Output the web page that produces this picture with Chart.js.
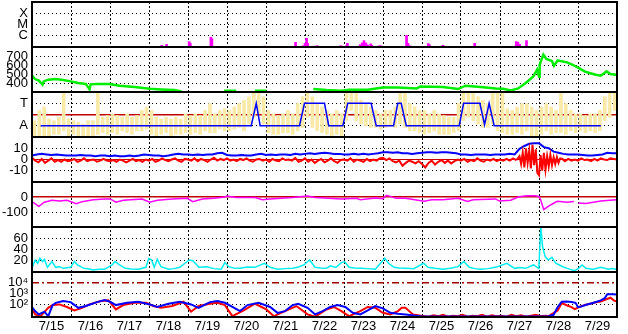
<!DOCTYPE html>
<html>
<head>
<meta charset="utf-8">
<script src="https://cdn.jsdelivr.net/npm/chart.js@4.4.1/dist/chart.umd.min.js"></script>
<style>
  html, body { margin: 0; padding: 0; background: #fff; }
  canvas { display: block; }
</style>
</head>
<body>
<canvas id="chart" width="628" height="334"></canvas>
<script>
// time is in hours from 7/15 00:00
const dayLabels = ["7/15", "7/16", "7/17", "7/18", "7/19", "7/20", "7/21", "7/22", "7/23", "7/24", "7/25", "7/26", "7/27", "7/28", "7/29"];

// X-ray flares (W/m2)
const flareBase = 1e-7;
const flareHours = [79.8, 82.8, 96.7, 97.4, 110.1, 110.7, 143, 162.2, 167, 168, 169, 169.6, 173.8, 175.6, 178.4, 190, 193.4, 194.1, 197.4, 200.9, 202, 203.2, 204.3, 205.5, 206.6, 208.5, 209.2, 212.9, 214.3, 215.2, 219.4, 222.8, 230.5, 231.4, 232.3, 243.9, 244.6, 252.9, 272.4, 298, 299, 300.1, 304.3, 359];
const flareFlux = [1.4e-7, 1.7e-7, 3.0e-7, 2.1e-7, 7.4e-7, 5.4e-7, 1.2e-7, 2.6e-7, 1.3e-7, 2.1e-7,
  6.0e-7, 2.1e-7, 1.2e-7, 1.3e-7, 1.15e-7, 1.3e-7, 1.3e-7, 2.1e-7, 1.15e-7, 1.15e-7,
  1.6e-7, 2.3e-7, 3.7e-7, 2.3e-7, 1.5e-7, 1.9e-7, 1.4e-7, 1.2e-7, 1.3e-7, 1.2e-7,
  1.15e-7, 1.15e-7, 1.07e-6, 2.1e-7, 1.3e-7, 2.0e-7, 1.6e-7, 1.4e-7, 2.1e-7, 3.0e-7,
  2.6e-7, 1.7e-7, 3.7e-7, 1.15e-7];
const xrayTicks = [1e-4, 1e-5, 1e-6];
const xrayLabels = ["X", "M", "C"];

// solar wind speed (km/s), null = off scale
const speedHours = [0, 1.9, 4.2, 6.5, 7.2, 10, 14.6, 19.2, 23.8, 28.5, 33.1, 35.4, 36.1, 40, 47.7, 53.9, 63.2, 72.4, 79.4, 87.5, 92.1, 93, 118.2, 125.7, 126.5, 137.2, 144.2, 145, 173.1, 181.2, 190.4, 195.1, 206.6, 215.9, 225.2, 236.7, 239, 252.9, 262.2, 266.8, 276.1, 285.3, 290, 294.6, 299.2, 303.8, 308.5, 310.8, 312, 312.4, 313.1, 314.7, 316.5, 320, 321.2, 323.5, 329.3, 333, 336, 340, 343, 347, 350, 353.6, 356, 359.4];
const speedVals = [481, 444, 426, 381, 418, 437, 444, 433, 418, 400, 390, 330, 385, 389, 389, 370, 356, 337, 329, 322, 307, null, 314, 314, null, 314, 314, null, 333, 322, 314, 326, 326, 351, 351, 340, 362, 356, 333, 370, 356, 340, 337, 318, 340, 400, 473, 548, 470, 600, 640, 715, 667, 645, 592, 651, 629, 600, 570, 529, 511, 492, 481, 529, 500, 492];
const speedTicks = [400, 500, 600, 700];

// IMF sector: T = +1, A = -1; yellow = angle spread per 3 h bin
const polHours = [5.3, 134.9, 138, 140.4, 164.6, 167.7, 180, 182.6, 191.3, 194.3, 208.7, 211.8, 222.5, 225.1, 227.2, 230.3, 262.9, 265.6, 275.6, 278.5, 281.3, 284.4, 350.1];
const polVals = [-1, -1, 1, -1, -1, 1, 1, -1, -1, 1, 1, -1, -1, 1, 1, -1, -1, 1, 1, -0.9, 1, -1, -1];
const phiHi = [-0.55, 0.36, 0.67, -0.4, -0.55, -0.24, 1.88, -0.4,
  -0.55, -0.7, -0.85, -0.55, -0.55, 1.88, -0.24, -0.09,
  0.06, -0.09, -0.24, 0.06, -0.24, -0.09, 0.36, 0.67,
  0.36, -0.24, -0.4, -0.24, -0.4, -0.24, -0.4, 0.06,
  -0.09, 0.06, -0.09, 0.36, 0.97, 0.06, 0.36, 0.51,
  0.36, 0.67, 0.97, 1.27, 1.58, 2, 2, 1.58,
  0.36, 0.06, -0.09, 0.06, 0.36, 0.06, 0.97, 1.58,
  2, 1.58, 0.97, 0.67, 0.36, 0.06, 0.36, 0.06,
  2, 2, 1.88, 1.27, 0.97, 0.67, 0.36, 0.06,
  0.36, 0.36, 0.67, 1.88, 2, 0.97, 0.67, 0.36,
  0.36, 0.06, 0.36, 0.06, -0.09, -0.24, -0.24, 0.97,
  2, 2, 1.88, 1.58, 1.27, 0.97, 2, 1.88,
  1.88, 0.51, 0.36, 0.67, 0.97, 0.97, 0.67, 0.36,
  0.67, 0.97, 0.67, 0.36, 1.88, 0.97, 0.36, 0.06,
  0.06, -0.09, 0.06, 0.06, 0.36, 1.58, 2, 2];
const phiLo = [-2, -2, -1.91, -2, -1.76, -1.76, -1.45, -1.91,
  -1.76, -2, -2, -1.91, -2, -1.76, -1.61, -1.76,
  -1.61, -1.76, -1.45, -1.61, -1.76, -1.45, -1.45, -1.3,
  -1.76, -1.91, -1.76, -1.61, -1.91, -1.76, -1.76, -1.61,
  -1.76, -1.61, -1.76, -1.45, -1.61, -1.61, -1.3, -1.45,
  -1.45, -1.3, -1.15, -1.45, -0.85, -0.24, 0.06, -0.85,
  -1.61, -1.76, -1.76, -1.61, -1.61, -1.76, -1.45, -1.15,
  -0.24, -1.15, -1.45, -1.61, -1.76, -1.91, -1.76, -2,
  -0.55, 0.36, -0.55, -0.85, -1.0, -1.15, -1.15, -1.3,
  -1.15, -1.0, -1.15, -0.85, -1.15, -1.45, -1.45, -1.61,
  -1.76, -1.61, -1.45, -1.76, -1.76, -1.76, -1.61, -1.45,
  -0.55, -0.24, -0.55, -0.85, -1.15, -1.15, -0.85, -1.45,
  -1.61, -1.76, -1.76, -1.61, -1.76, -1.45, -1.91, -2,
  -1.76, -1.45, -1.76, -1.61, -1.61, -1.76, -1.45, -1.61,
  -1.45, -1.61, -1.45, -1.61, -1.45, -0.55, -0.24, 0.36];
const polTicks = [1, 0, -1];
const polLabels = ["T", "", "A"];

// IMF Bz every 2 h (storm hours kept hourly below), Bt every 3 h (nT)
const bzVals = [1.5, -1, -2.5, 0.5, -3, -1, 1, -2, -0.5, -2, 0, -1.5,
  -1, 0.5, -2, -1, 1, -1.5, -0.5, 0, -2, -1, 0.5, -1,
  -1.5, -0.5, -2, 0, -1, -2.5, -1, 0.5, -1.5, -0.5, -2, 0,
  -1, 0.5, -2, -1, 1, -0.5, -1.5, 0, 1, -1, -2, 0.5,
  0, -1, 1, -1.5, 0.5, -0.5, -2, 0, 1.5, -1, 0.5, -0.5,
  1, -1, 0, -1.5, 0.5, -0.5, 1, -1, -2, 0, 0.5, -1,
  0, -2, 0.5, -1, -1.5, 1, -0.5, 0, -1, 1.5, -2, -1,
  1, -2, 0, -3, -1, 0.5, -2.5, -1, 1, -1.5, -3, -0.5,
  0, -1, 1, -2, 0, -1, -2, 0.5, -1.5, 0, -1, 1,
  1.5, -0.5, 1, -1.5, -2.5, -1, -5.5, -3, -1, -2, -3.5, -1.5,
  -4, -7, -3, -1, -4.5, -2, -0.5, -3, -1, -3.5, -1.5, 0,
  -1, 0.5, -2, -0.5, -1.5, 1, -1, -2, 0, -1, 0.5, -1.5,
  0, -1, 0.5, -1, 1, -0.5, null, null, null, null, null, null,
  null, null, null, null, null, null, null, 1, -1.5, 0.5, -1, 0,
  -1, 1, -0.5, 0, -1.5, 0.5, -1, 1, 0, -0.5, 1, 0.5,
  0];
const bzStormHours = [298, 299, 300, 301, 302, 303, 304, 305, 306, 307, 308, 309, 310, 311, 312, 313, 314, 315, 316, 317, 318, 319, 320, 321, 322, 323, 324, 325, 326];
const bzStormVals = [-0.5, 1, 3, -4, 6, -7, 10, -3, 8, -8, 13, -5, 9, -12, -14, 4, -10, 6, -9, 3, -6, 4, -5, 2, -4, 2, -3, 1, 1];
const btVals = [3.5, 4.5, 5, 4.5, 4, 4.5, 4, 3.5,
  3.5, 3.5, 4, 3.5, 3.5, 3, 3.5, 3.5,
  3, 3.5, 3, 3, 3.5, 3, 3.5, 4.5,
  4, 3.5, 3.5, 3, 3.5, 4.5, 5, 4.5,
  4.5, 4, 4.5, 4, 4.5, 4.5, 5.5, 6,
  4, 3.5, 3.5, 4, 3.5, 3.5, 4.5, 5,
  4, 4.5, 4, 4.5, 4.5, 4, 5, 4.5,
  5, 5.5, 5, 5.5, 6, 5.5, 5, 5,
  4.5, 4.5, 5, 4.5, 5, 4.5, 5, 5.5,
  6.5, 6.5, 6, 6.5, 5.5, 5.5, 5, 5.5,
  6, 6.5, 6.5, 6, 6.5, 6.5, 6, 5.5,
  4.5, 4.5, 4, 4.5, 4.5, 4.5, 4, 4.5,
  4.5, 4.5, 5, 4.5, 9.5, 12, 14, 14.5,
  14.5, 11, 10, 7, 6, 5, 4.5, 4.5,
  4.5, 4, 3.5, 3.5, 4, 4.5, 6, 5.5,
  5.5];
const bTicks = [10, 0, -10];

// Dst (nT)
const dstHours = [0, 4.2, 7.6, 12.3, 16.9, 21.5, 27.3, 30.8, 37.7, 44.7, 48.1, 51.6, 56.2, 67.8, 72.4, 77.1, 86.3, 95.6, 99, 104.8, 111.8, 118.7, 119.9, 125.7, 137.2, 141.8, 146.5, 160.4, 169.6, 174.2, 190.4, 199.7, 202, 211.3, 215.9, 218.2, 220.5, 224, 229.8, 241.4, 246, 252.9, 262.2, 268, 271.4, 285.3, 287.6, 294.6, 299.2, 303, 306.1, 309.6, 312, 313.1, 314.9, 317.7, 321.2, 323.5, 329.3, 333.5, 334.5, 336.2, 340.8, 350.1, 359.4];
const dstVals = [-31, -62, -35, -22, -27, -22, -44, -31, -18, -13, -13, -35, -22, -13, -35, -22, -13, -9, -31, -13, -9, 0, 7, -4, -4, -18, -13, -4, 7, -4, -13, -9, -18, -7, -11, 11, 4, -9, -9, -29, -18, -18, -9, -29, -18, -13, -27, -22, 0, 7, 9, 8, 4, -22, -84, -62, -40, -29, -35, -30, null, -40, -44, -27, -18];
const dstTicks = [0, -100];

// proton density (p/cc)
const densHours = [0, 1.9, 3.5, 4.9, 6.5, 7.6, 9.5, 12.3, 14.6, 17, 19.2, 21.5, 23.8, 26.1, 28, 31.9, 35, 37.7, 41, 44.7, 49.3, 51.1, 53.9, 57.4, 61, 65.5, 70.1, 71.9, 73.6, 75.2, 77.1, 79.4, 84, 87.5, 90.9, 96.7, 99, 102.7, 107.4, 112, 116.4, 118.7, 121, 124, 128, 132.5, 137.2, 143, 146.5, 151.1, 155.5, 160.4, 164, 167.3, 170.8, 174.2, 177.5, 181.2, 183.5, 187, 190.4, 192.3, 195.1, 198.5, 202, 206.5, 211.3, 217.1, 219.4, 222.8, 226, 229.8, 235, 240.9, 243.7, 248, 252.9, 257.5, 262.2, 265.7, 269.1, 272.5, 276.1, 280.5, 285.3, 292.2, 296.9, 300, 303.8, 308.5, 311.9, 313.1, 314.2, 315.8, 317.7, 320, 322.3, 324.6, 327, 329.3, 333.9, 336.2, 338.5, 340.8, 345.4, 350.1, 354.7, 357, 359.4];
const densVals = [6.5, 21.4, 15.5, 24.4, 18.5, 22.6, 8.3, 18.5, 8.3, 9.5, 6.5, 7.5, 8.3, 18.5, 12.5, 6.5, 5.5, 3.6, 5, 4.8, 12.5, 18.5, 12.5, 6.5, 5.5, 4.8, 8.3, 24.4, 21.4, 8.3, 22.6, 9.5, 4.8, 6, 8.3, 21.4, 20.2, 8.3, 9.5, 6, 4.8, 16.7, 9.5, 7, 6.5, 9, 8.3, 15.5, 8.3, 4.8, 6, 6.5, 9, 12.5, 21.4, 8.3, 7, 6.5, 11, 8, 16.7, 18.5, 8.3, 7, 6.5, 6, 4.8, 24.4, 15.5, 8.3, 7, 6.5, 6, 15.5, 8.3, 6.5, 4.8, 6.5, 9.5, 18.5, 8.3, 6, 4.8, 6, 8.3, 15.5, 6.5, 8, 6.5, 12.5, 6.5, 79.8, 45.2, 27.4, 21.4, 26.2, 15.5, 12.5, 9, 6.5, 2.4, 6, 12.5, 6.5, 4.8, 8.3, 4.8, 6, 4.8];
const densTicks = [20, 40, 60];

// electron flux, two satellites
const eBlueHours = [0, 1.9, 4.2, 7.6, 10, 12.7, 14.6, 19.2, 23.8, 28.5, 33.1, 40, 44.7, 48.1, 51.6, 58.5, 65.5, 72.4, 77.1, 84, 90.9, 97.9, 102.5, 109.5, 114.1, 118.7, 123.3, 128, 132.6, 139.5, 146.5, 151.1, 155.7, 160.4, 163.8, 169.6, 174.2, 178.9, 183.5, 188.1, 192.8, 197.4, 202, 206.6, 211.3, 215.9, 220.5, 225.2, 229.8, 239, 252.9, 276.1, 299.2, 317.7, 321, 323.5, 326, 329, 332, 334.5, 336, 338, 341, 344, 347, 350, 352.5, 354, 357, 360];
const eBlueVals = [62, 26, 13, 23, 9, 93, 150, 220, 174, 52, 76, 174, 270, 186, 93, 150, 186, 107, 62, 123, 186, 107, 52, 174, 220, 150, 62, 26, 93, 150, 62, 18, 26, 93, 123, 52, 13, 26, 62, 93, 62, 18, 13, 30, 76, 46, 18, 15, 13, 9, 8.5, 8.5, 8.5, 9, 12, 60, 190, 200, 180, 150, 60, 70, 100, 130, 180, 250, 400, 900, 900, 850];
const eRedHours = [0, 1.9, 5.3, 10, 12.7, 16.9, 21.5, 26.1, 30.8, 35.4, 42.4, 47, 51.6, 56.2, 63.2, 70.1, 74.7, 79.4, 86.3, 93.3, 97.9, 102.5, 109.5, 114.1, 118.7, 123.3, 130.3, 137.2, 144.2, 148.8, 155.7, 162.7, 169.6, 174.2, 181.2, 185.8, 190.4, 195.1, 202, 206.6, 211.3, 215.9, 220.5, 225.2, 227.5, 229.8, 234.4, 241.4, 244, 247, 250, 253, 256, 259, 262, 265, 268, 271, 274, 277, 280, 283, 286, 289, 292, 295, 298, 301, 304, 307, 310, 313, 316, 318, 323.5, 326, 329, 332, 334, 336, 338, 341, 344, 347, 350, 353, 356, 358, 360];
const eRedVals = [46, 13, 9, 52, 93, 107, 62, 30, 52, 107, 220, 250, 37, 93, 150, 150, 76, 52, 76, 186, 23, 76, 123, 150, 93, 9, 30, 123, 37, 9, 26, 76, 13, 8, 37, 62, 26, 9, 26, 62, 52, 18, 13, 26, 52, 52, 13, 9, 8, 11, 9, 12, 8, 10, 9, 12, 8, 10, 9, 12, 8, 11, 9, 10, 8, 12, 9, 11, 8, 10, 12, 9, 10, 9, 30, 140, 90, 60, 40, 55, 75, 100, 130, 170, 200, 300, 440, 250, 200];
const eTicks = [1e2, 1e3, 1e4];
const eLabels = ["10\u00b2", "10\u00b3", "10\u2074"];

const refRed = "#c00000";
const tickFont = { family: "'Liberation Sans', Arial, sans-serif", size: 13 };
const panelIds = ["yX", "yV", "yP", "yB", "yD", "yN", "yE"];

function pts(hours, vals) {
    return hours.map((h, i) => ({ x: h, y: vals[i] }));
}

function panelAxis(o) {
    const special = o.special || {};
    return {
        type: o.type || "linear",
        position: "left",
        stack: "panels",
        stackWeight: 1,
        weight: o.weight,
        min: o.min,
        max: o.max,
        beginAtZero: false,
        afterBuildTicks: s => { s.ticks = o.ticks.map(v => ({ value: v })); },
        afterFit: s => { s.width = 32; s.paddingTop = 0; s.paddingBottom = 0; },
        ticks: {
            color: "#000",
            font: tickFont,
            padding: 4,
            autoSkip: false,
            callback: (v, i) => o.labels ? o.labels[i] : String(o.ticks[i])
        },
        grid: {
            drawTicks: false,
            color: c => special[c.tick.value] ? special[c.tick.value].color : "#000",
            lineWidth: c => special[c.tick.value] ? special[c.tick.value].width : 1
        },
        border: {
            display: false,
            dash: c => special[c.tick.value] ? special[c.tick.value].dash : [1, 3]
        }
    };
}

const framePlugin = {
    id: "frame",
    beforeDatasetDraw(chart, args) {
        const ys = chart.scales[args.meta.yAxisID];
        const a = chart.chartArea;
        const c = chart.ctx;
        c.save();
        c.beginPath();
        c.rect(a.left, ys.top, a.right - a.left, ys.bottom - ys.top);
        c.clip();
    },
    afterDatasetDraw(chart) {
        chart.ctx.restore();
    },
    afterDraw(chart) {
        const a = chart.chartArea;
        const c = chart.ctx;
        c.save();
        c.strokeStyle = "#000";
        c.lineWidth = 2;
        c.strokeRect(a.left, a.top, a.right - a.left, a.bottom - a.top);
        panelIds.slice(1).forEach(id => {
            const y = Math.round(chart.scales[id].top);
            c.beginPath();
            c.moveTo(a.left, y);
            c.lineTo(a.right, y);
            c.stroke();
        });
        c.restore();
    }
};

const line = (yAxisID, data, color, width) => ({
    type: "line", yAxisID, data, borderColor: color, borderWidth: width,
    pointRadius: 0, tension: 0, fill: false
});

const xTicks = [];
dayLabels.forEach((d, i) => { xTicks.push(24 * i, 24 * i + 12); });
xTicks.push(24 * dayLabels.length);

new Chart(document.getElementById("chart"), {
    type: "line",
    data: {
        datasets: [
            line("yB", pts(bzStormHours, bzStormVals), "#ff0000", 2),
            line("yB", pts(bzVals.map((_, i) => 2 * i), bzVals), "#ff0000", 2),
            line("yB", pts(btVals.map((_, i) => 3 * i), btVals), "#0000ff", 2),
            line("yE", pts(eBlueHours, eBlueVals), "#0000ff", 2),
            line("yE", pts(eRedHours, eRedVals), "#ff0000", 2),
            line("yP", pts(polHours, polVals), "#0000ff", 1.5),
            line("yV", pts(speedHours, speedVals), "#00ee00", 2.5),
            line("yD", pts(dstHours, dstVals), "#ff00ff", 1.5),
            line("yN", pts(densHours, densVals), "#00eeee", 1.5),
            {
                type: "bar", yAxisID: "yP", grouped: false, barThickness: 3,
                backgroundColor: "#f9eaa8", borderWidth: 0,
                data: phiLo.map((lo, i) => ({ x: 1.5 + 3 * i, y: [lo, phiHi[i]] }))
            },
            {
                type: "bar", yAxisID: "yX", grouped: false, barThickness: 2,
                backgroundColor: "#ff00ff", borderWidth: 0,
                data: flareHours.map((h, i) => ({ x: h, y: [flareBase, flareFlux[i]] }))
            }
        ]
    },
    options: {
        responsive: false,
        animation: false,
        devicePixelRatio: 1,
        layout: { padding: { top: 2, right: 11, bottom: 0, left: 0 } },
        plugins: { legend: { display: false }, tooltip: { enabled: false } },
        scales: {
            x: {
                type: "linear",
                min: 0,
                max: 360,
                offset: false,
                afterBuildTicks: s => { s.ticks = xTicks.map(v => ({ value: v })); },
                afterFit: s => { s.height = 17; s.paddingLeft = 0; s.paddingRight = 0; },
                ticks: {
                    color: "#000",
                    font: tickFont,
                    padding: 2,
                    autoSkip: false,
                    maxRotation: 0,
                    callback: (v, i) => (xTicks[i] % 24 === 12) ? dayLabels[(xTicks[i] - 12) / 24] : ""
                },
                grid: {
                    offset: false,
                    drawTicks: false,
                    color: c => (c.tick.value % 24 === 0 && c.tick.value > 0 && c.tick.value < 360) ? "#000" : "rgba(0,0,0,0)"
                },
                border: { display: false, dash: [2, 2] }
            },
            yX: panelAxis({ type: "logarithmic", min: 1e-7, max: 1e-3, weight: 7, ticks: xrayTicks, labels: xrayLabels }),
            yV: panelAxis({ min: 300, max: 800, weight: 6, ticks: speedTicks }),
            yP: panelAxis({ min: -2, max: 2, weight: 5, ticks: polTicks, labels: polLabels,
                special: { 0: { color: refRed, width: 1.5, dash: [] } } }),
            yB: panelAxis({ min: -20, max: 20, weight: 4, ticks: bTicks,
                special: { 0: { color: refRed, width: 1, dash: [] } } }),
            yD: panelAxis({ min: -200, max: 100, weight: 3, ticks: dstTicks,
                special: { 0: { color: refRed, width: 1.5, dash: [] } } }),
            yN: panelAxis({ min: 0, max: 80, weight: 2, ticks: densTicks }),
            yE: panelAxis({ type: "logarithmic", min: 7.5, max: 1e5, weight: 1, ticks: eTicks, labels: eLabels,
                special: { 10000: { color: "#a00000", width: 1.5, dash: [7, 3, 2, 3] } } })
        }
    },
    plugins: [framePlugin]
});
</script>
</body>
</html>
